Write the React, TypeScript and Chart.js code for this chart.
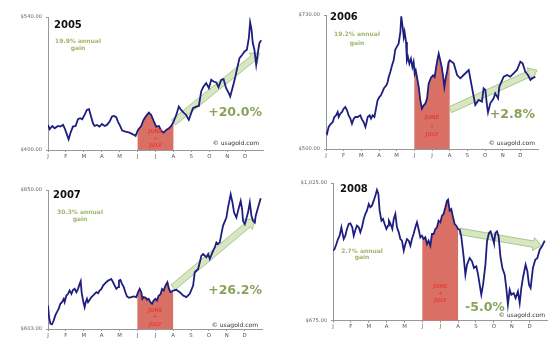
import React, { useEffect, useRef } from 'react';
import { Chart, registerables } from 'chart.js';

Chart.register(...registerables);

const monthLetters = ['J', 'F', 'M', 'A', 'M', 'J', 'J', 'A', 'S', 'O', 'N', 'D'];

// ---- 2005 ----
const months2005 = [0,0.09,0.24,0.37,0.56,0.69,0.84,0.93,1.02,1.15,1.25,1.39,1.54,1.67,1.80,1.91,2.04,2.17,2.29,2.38,2.51,2.60,2.73,2.88,3.01,3.16,3.29,3.44,3.57,3.68,3.81,3.90,4.00,4.14,4.33,4.55,4.74,4.89,5.02,5.20,5.33,5.48,5.63,5.76,5.89,6.04,6.19,6.32,6.45,6.60,6.75,6.88,7.01,7.16,7.30,7.43,7.57,7.71,7.86,7.99,8.09,8.27,8.42,8.55,8.68,8.83,8.98,9.11,9.24,9.39,9.52,9.67,9.80,9.94,10.09,10.17,10.32,10.46,10.56,10.69,10.84,10.97,11.10,11.21,11.28,11.36,11.43,11.52,11.62,11.71,11.80,11.90];
const gold2005 = [426.4,421.8,425.3,422.9,425.3,424.6,426.4,422.9,418.3,411.3,417.6,424.6,425.3,432.4,433.4,432.4,436.9,442.2,442.9,436.9,428.1,425.3,426.4,424.6,427.4,425.3,426.4,429.9,435.2,435.9,434.5,429.9,426.4,420.4,419.3,418.3,416.5,414.8,421.1,425.3,431.7,435.9,439.4,436.9,431.0,424.6,425.3,420.4,418.3,421.1,422.9,425.3,429.9,436.9,445.7,442.2,439.4,436.9,431.7,438.7,444.0,445.7,446.4,461.6,466.8,470.4,465.1,473.9,472.1,471.1,466.1,473.9,474.6,465.1,459.8,456.3,466.8,477.4,486.2,496.7,500.3,503.8,505.5,517.9,534.4,526.6,512.6,505.5,489.7,502.0,512.6,515.4];
const arrow2005 = [[7.0, 429], [11.8, 502]];

// ---- 2006 ----
const months2006 = [0,0.06,0.15,0.25,0.38,0.47,0.57,0.66,0.72,0.81,0.91,1.00,1.09,1.19,1.28,1.38,1.47,1.57,1.66,1.79,1.94,2.04,2.13,2.23,2.28,2.36,2.47,2.55,2.64,2.74,2.83,2.92,3.02,3.11,3.23,3.30,3.42,3.49,3.55,3.64,3.74,3.83,3.92,4.02,4.11,4.21,4.26,4.34,4.40,4.45,4.53,4.58,4.64,4.72,4.81,4.89,4.96,5.02,5.08,5.15,5.25,5.34,5.43,5.53,5.62,5.72,5.81,5.94,6.06,6.15,6.25,6.32,6.38,6.47,6.55,6.62,6.70,6.77,6.85,6.94,7.00,7.13,7.23,7.42,7.60,7.79,8.08,8.36,8.45,8.64,8.83,8.92,9.02,9.11,9.17,9.30,9.49,9.58,9.74,9.81,10.06,10.25,10.43,10.62,10.81,11.00,11.13,11.28,11.43,11.57,11.66,11.85];
const gold2006 = [529.2,526.3,537.8,542.3,546.3,554.9,557.8,563.5,554.9,560.6,563.5,569.2,572.1,566.4,557.8,552.1,543.5,552.1,554.9,554.9,557.8,550.3,546.3,537.8,543.5,554.9,557.8,552.1,557.8,554.9,569.2,583.5,589.2,592.1,600.7,605.3,609.3,615.0,623.6,632.2,643.6,652.2,670.5,676.2,680.8,700.8,727.7,709.4,692.2,700.8,683.6,652.2,657.9,646.5,655.0,640.7,649.3,629.3,635.0,623.6,606.4,583.5,569.2,574.9,577.8,586.4,612.1,622.4,626.4,623.6,643.6,655.0,663.6,652.2,640.7,626.4,606.4,620.7,632.2,649.3,652.2,649.3,647.0,627.0,621.3,627.0,635.6,589.8,575.5,584.1,581.2,604.1,601.3,575.5,562.9,578.4,587.0,595.5,587.0,607.0,624.1,627.0,624.1,629.9,635.6,649.9,647.0,632.7,627.0,618.4,621.3,624.1];
const arrow2006 = [[7.04, 567.5], [11.94, 635]];

// ---- 2007 ----
const months2007 = [0,0.06,0.13,0.22,0.32,0.41,0.50,0.60,0.69,0.78,0.88,0.93,1.03,1.12,1.21,1.31,1.40,1.49,1.59,1.68,1.77,1.83,1.88,1.96,2.05,2.11,2.18,2.24,2.33,2.43,2.52,2.61,2.71,2.80,2.89,2.99,3.08,3.17,3.26,3.36,3.45,3.54,3.64,3.73,3.82,3.92,3.97,4.05,4.14,4.24,4.33,4.42,4.53,4.66,4.79,4.94,5.04,5.13,5.22,5.28,5.35,5.47,5.54,5.63,5.73,5.82,5.91,6.01,6.10,6.19,6.29,6.38,6.47,6.57,6.68,6.77,6.85,7.00,7.18,7.37,7.56,7.74,7.93,8.12,8.21,8.40,8.58,8.68,8.86,8.96,9.05,9.24,9.33,9.42,9.51,9.61,9.79,9.98,10.07,10.22,10.32,10.41,10.54,10.63,10.78,10.86,10.91,11.01,11.19,11.29,11.38,11.47,11.57,11.62,11.75,11.90];
const gold2007 = [644.9,624.2,612.4,611.3,618.3,627.2,633.1,639.0,647.8,650.7,656.6,650.7,662.5,665.5,671.4,665.5,672.6,674.3,668.4,674.3,683.2,687.9,668.4,653.7,641.9,650.7,656.6,650.7,654.9,659.6,662.5,665.5,668.4,666.7,671.4,674.3,680.2,683.2,686.1,689.1,690.2,692.0,686.1,680.2,674.3,677.3,689.1,690.2,683.2,677.3,668.4,660.8,658.4,659.6,660.8,659.6,668.4,674.3,668.4,656.6,659.6,658.4,654.9,656.6,650.7,647.8,653.7,656.6,653.7,662.5,664.3,674.3,671.4,680.2,686.1,674.3,668.4,671.4,672.6,668.4,662.5,659.6,665.5,680.2,703.8,709.7,733.3,736.2,730.3,736.2,727.4,742.1,748.0,756.9,753.9,756.9,786.3,801.1,818.8,842.3,827.6,809.9,801.1,812.9,830.5,815.8,795.2,789.3,809.9,827.6,804.0,795.2,792.2,804.0,818.8,835.3];
const arrow2007 = [[7.0, 677], [11.55, 798]];

// ---- 2008 ----
const months2008 = [0,0.09,0.19,0.28,0.37,0.47,0.52,0.60,0.69,0.78,0.88,0.97,1.08,1.16,1.27,1.34,1.44,1.53,1.62,1.72,1.81,1.90,2.00,2.09,2.18,2.28,2.37,2.46,2.54,2.61,2.71,2.80,2.89,2.99,3.08,3.13,3.21,3.32,3.40,3.49,3.58,3.68,3.77,3.86,3.96,4.05,4.14,4.24,4.33,4.42,4.51,4.61,4.70,4.79,4.89,4.98,5.07,5.17,5.26,5.35,5.45,5.54,5.63,5.73,5.82,5.91,6.01,6.10,6.19,6.29,6.38,6.44,6.53,6.62,6.72,6.81,6.90,7.00,7.09,7.18,7.31,7.41,7.50,7.65,7.78,7.89,8.02,8.12,8.21,8.30,8.40,8.53,8.62,8.73,8.82,8.96,9.01,9.09,9.18,9.27,9.37,9.48,9.61,9.70,9.79,9.89,9.98,10.11,10.22,10.35,10.45,10.54,10.63,10.78,10.88,10.97,11.06,11.19,11.32,11.44,11.57,11.70,11.85];
const gold2008 = [853.0,857.2,869.9,882.6,891.1,912.3,899.6,882.6,891.1,908.1,920.8,922.5,912.3,891.1,908.1,916.5,912.3,899.6,912.3,933.5,946.2,954.7,971.6,963.2,967.4,980.1,992.8,1007.2,997.1,954.7,929.3,933.5,920.8,908.1,916.5,929.3,922.5,908.1,933.5,946.2,912.3,899.6,882.6,878.4,853.0,869.9,882.6,878.4,865.7,882.6,895.4,912.3,925.0,908.1,886.9,891.1,882.6,886.9,869.9,878.4,865.7,895.4,895.4,908.1,912.3,929.3,925.0,942.0,946.2,963.2,980.1,982.6,954.7,958.9,937.7,920.8,916.5,908.1,906.4,889.4,838.6,792.0,817.4,834.3,825.9,808.9,813.1,792.0,766.5,741.1,766.5,817.4,876.7,897.9,902.1,880.9,872.5,897.9,902.1,889.4,838.6,808.9,792.0,758.1,715.7,753.8,741.1,745.3,732.6,749.6,719.9,758.1,783.5,817.4,800.4,766.5,758.1,808.9,830.1,834.3,855.5,864.0,878.4];
const arrow2008 = [[7.09, 902], [11.66, 866]];

const years = ['2005', '2006', '2007', '2008'];
const annualGains = ['19.9%', '19.2%', '30.3%', '2.7%'];
const summerChanges = ['+20.0%', '+2.8%', '+26.2%', '-5.0%'];
const yMins = [400, 500, 603, 675];
const yMaxs = [540, 730, 850, 1025];

const FONT = '"DejaVu Sans", Verdana, sans-serif';
const GREEN = '#8aa259';
const LIGHT_GREEN = '#a0b66a';
const RED_TEXT = '#e8403a';

type Layout = {
  left: number; top: number; w: number; h: number;
  area: { left: number; top: number; right: number; bottom: number };
  yearPos: [number, number];
  annualPos: [number, number, number];
  changePos: [number, number];
  changeAlign: CanvasTextAlign;
  junePos: [number, number, number];
  copyPos: [number, number];
};

const layouts: Layout[] = [
  {
    left: 0, top: 0, w: 280, h: 174,
    area: { left: 48, top: 17, right: 263, bottom: 150 },
    yearPos: [54, 25], annualPos: [78, 41, 48], changePos: [262, 113], changeAlign: 'right',
    junePos: [132, 139, 146], copyPos: [259, 143],
  },
  {
    left: 280, top: 0, w: 280, h: 174,
    area: { left: 46, top: 15, right: 258, bottom: 149 },
    yearPos: [50, 17], annualPos: [77, 34, 43], changePos: [255, 115], changeAlign: 'right',
    junePos: [118, 127, 135], copyPos: [255, 143],
  },
  {
    left: 0, top: 174, w: 280, h: 174,
    area: { left: 48, top: 16, right: 262.5, bottom: 155 },
    yearPos: [53, 21], annualPos: [80, 38, 45], changePos: [262, 117], changeAlign: 'right',
    junePos: [137, 143, 151], copyPos: [258, 151],
  },
  {
    left: 280, top: 174, w: 280, h: 174,
    area: { left: 53, top: 9, right: 267.4, bottom: 146.7 },
    yearPos: [60, 15], annualPos: [82, 77, 83], changePos: [185, 134], changeAlign: 'left',
    junePos: [113, 120, 127], copyPos: [265, 141],
  },
];

const seriesX = [months2005, months2006, months2007, months2008];
const seriesY = [gold2005, gold2006, gold2007, gold2008];
const arrows = [arrow2005, arrow2006, arrow2007, arrow2008];

const fmtDollar = (v: number) =>
  '$' + Number(v).toLocaleString('en-US', { minimumFractionDigits: 2, maximumFractionDigits: 2 });

const decorPlugin = {
  id: 'decor',
  beforeDatasetsDraw(chart: any, _args: any, opts: any) {
    const { ctx, chartArea } = chart;
    const xs = chart.scales.x;
    const ys = chart.scales.y;
    const pts = chart.getDatasetMeta(0).data;
    // June + July shading under the line
    const x0 = xs.getPixelForValue(5);
    const x1 = xs.getPixelForValue(7);
    ctx.save();
    ctx.beginPath();
    ctx.rect(x0, chartArea.top, x1 - x0, chartArea.bottom - chartArea.top);
    ctx.clip();
    ctx.beginPath();
    ctx.moveTo(pts[0].x, chartArea.bottom);
    for (const p of pts) ctx.lineTo(p.x, p.y);
    ctx.lineTo(pts[pts.length - 1].x, chartArea.bottom);
    ctx.closePath();
    ctx.fillStyle = 'rgb(216,112,102)';
    ctx.fill();
    ctx.restore();

    // trend arrow
    const a = opts.arrow;
    const p1x = xs.getPixelForValue(a[0][0]);
    const p1y = ys.getPixelForValue(a[0][1]);
    const p2x = xs.getPixelForValue(a[1][0]);
    const p2y = ys.getPixelForValue(a[1][1]);
    const dx = p2x - p1x, dy = p2y - p1y;
    const len = Math.hypot(dx, dy);
    const ux = dx / len, uy = dy / len;
    const nx = -uy, ny = ux;
    const sw = 3.2, hw = 6.5, hl = 8;
    const bx = p2x - ux * hl, by = p2y - uy * hl;
    ctx.save();
    ctx.beginPath();
    ctx.moveTo(p1x + nx * sw, p1y + ny * sw);
    ctx.lineTo(bx + nx * sw, by + ny * sw);
    ctx.lineTo(bx + nx * hw, by + ny * hw);
    ctx.lineTo(p2x, p2y);
    ctx.lineTo(bx - nx * hw, by - ny * hw);
    ctx.lineTo(bx - nx * sw, by - ny * sw);
    ctx.lineTo(p1x - nx * sw, p1y - ny * sw);
    ctx.closePath();
    ctx.fillStyle = 'rgba(212,229,188,0.92)';
    ctx.fill();
    ctx.strokeStyle = 'rgba(150,182,112,0.95)';
    ctx.lineWidth = 0.8;
    ctx.stroke();
    ctx.restore();
  },
  afterDatasetsDraw(chart: any, _args: any, opts: any) {
    const { ctx } = chart;
    const xs = chart.scales.x;
    const L: Layout = opts.layout;
    ctx.save();
    ctx.textBaseline = 'middle';
    // year
    ctx.fillStyle = '#111';
    ctx.font = `bold 10px ${FONT}`;
    ctx.textAlign = 'left';
    ctx.fillText(opts.year, L.yearPos[0], L.yearPos[1]);
    // annual gain
    ctx.fillStyle = LIGHT_GREEN;
    ctx.font = `bold 6px ${FONT}`;
    ctx.textAlign = 'center';
    ctx.fillText(`${opts.annual} annual`, L.annualPos[0], L.annualPos[1]);
    ctx.fillText('gain', L.annualPos[0], L.annualPos[2]);
    // summer change
    ctx.fillStyle = GREEN;
    ctx.font = `bold 12.5px ${FONT}`;
    ctx.textAlign = L.changeAlign;
    ctx.fillText(opts.change, L.changePos[0], L.changePos[1]);
    // June + July
    ctx.fillStyle = RED_TEXT;
    ctx.font = `bold 5.4px ${FONT}`;
    ctx.textAlign = 'center';
    const mx = xs.getPixelForValue(6);
    ctx.fillText('JUNE', mx, L.junePos[0]);
    ctx.fillText('+', mx, L.junePos[1]);
    ctx.fillText('JULY', mx, L.junePos[2]);
    // copyright
    ctx.fillStyle = '#333';
    ctx.font = `6px ${FONT}`;
    ctx.textAlign = 'right';
    ctx.fillText('\u00A9 usagold.com', L.copyPos[0], L.copyPos[1]);
    ctx.restore();
  },
};

function Panel({ idx }: { idx: number }) {
  const ref = useRef<HTMLCanvasElement | null>(null);
  useEffect(() => {
    const L = layouts[idx];
    const xs = seriesX[idx];
    const ysv = seriesY[idx];
    const n = Math.min(xs.length, ysv.length);
    const data = [];
    for (let i = 0; i < n; i++) data.push({ x: xs[i], y: ysv[i] });
    const yMin = yMins[idx];
    const yMax = yMaxs[idx];
    const chart = new Chart(ref.current as HTMLCanvasElement, {
      type: 'line',
      data: {
        datasets: [
          {
            data,
            borderColor: '#1e1e80',
            borderWidth: 1.8,
            pointRadius: 0,
            tension: 0,
            fill: false,
          },
        ],
      },
      options: {
        animation: false,
        responsive: false,
        maintainAspectRatio: false,
        layout: { padding: { left: 0, top: L.area.top, right: L.w - L.area.right, bottom: 0 } },
        plugins: {
          legend: { display: false },
          tooltip: { enabled: false },
          decor: {
            layout: L,
            arrow: arrows[idx],
            year: years[idx],
            annual: annualGains[idx],
            change: summerChanges[idx],
          },
        } as any,
        scales: {
          x: {
            type: 'linear',
            min: 0,
            max: 12,
            afterBuildTicks: (s: any) => {
              s.ticks = monthLetters.map((_, i) => ({ value: i }));
            },
            afterFit: (s: any) => {
              s.height = L.h - L.area.bottom;
            },
            ticks: {
              callback: (v: any) => monthLetters[Math.round(Number(v))] ?? '',
              font: { size: 5.4, family: FONT },
              color: '#555',
              padding: 1,
              maxRotation: 0,
              autoSkip: false,
            },
            grid: { drawOnChartArea: false, drawTicks: true, tickLength: 2, color: '#999' },
            border: { color: '#999', width: 1 },
          },
          y: {
            type: 'linear',
            min: yMin,
            max: yMax,
            afterBuildTicks: (s: any) => {
              s.ticks = [{ value: yMin }, { value: yMax }];
            },
            afterFit: (s: any) => {
              s.width = L.area.left;
            },
            ticks: {
              callback: (v: any) => fmtDollar(v),
              font: { size: 5.2, family: FONT },
              color: '#666',
              padding: 4,
              autoSkip: false,
            },
            grid: { drawOnChartArea: false, drawTicks: true, tickLength: 2, color: '#999' },
            border: { color: '#999', width: 1 },
          },
        },
      } as any,
      plugins: [decorPlugin as any],
    });
    return () => chart.destroy();
  }, [idx]);
  const L = layouts[idx];
  return (
    <canvas
      ref={ref}
      width={L.w}
      height={L.h}
      style={{ position: 'absolute', left: L.left, top: L.top, width: L.w, height: L.h }}
    />
  );
}

export default function App() {
  return (
    <div
      style={{
        position: 'fixed',
        left: 0,
        top: 0,
        width: 560,
        height: 348,
        background: '#fff',
        overflow: 'hidden',
      }}
    >
      {[0, 1, 2, 3].map((i) => (
        <Panel key={i} idx={i} />
      ))}
    </div>
  );
}
